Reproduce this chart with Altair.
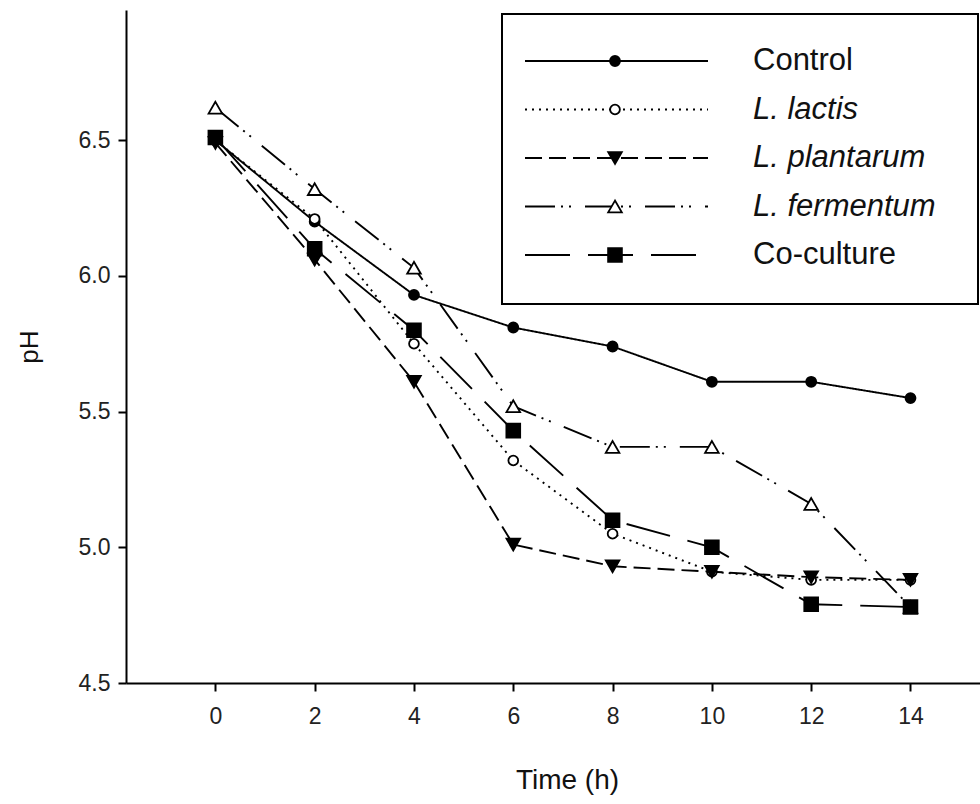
import altair as alt
import pandas as pd

# ---- data ----
times = [0, 2, 4, 6, 8, 10, 12, 14]
series_names = ["Control", "L. lactis", "L. plantarum", "L. fermentum", "Co-culture"]
control = [6.50, 6.20, 5.93, 5.81, 5.74, 5.61, 5.61, 5.55]
lactis = [6.50, 6.21, 5.75, 5.32, 5.05, 4.91, 4.88, 4.88]
plantarum = [6.49, 6.06, 5.61, 5.01, 4.93, 4.91, 4.89, 4.88]
fermentum = [6.62, 6.32, 6.03, 5.52, 5.37, 5.37, 5.16, 4.78]
coculture = [6.51, 6.10, 5.80, 5.43, 5.10, 5.00, 4.79, 4.78]
x_ticks = [0, 2, 4, 6, 8, 10, 12, 14]
y_ticks = [4.5, 5.0, 5.5, 6.0, 6.5]
italic_names = ["L. lactis", "L. plantarum", "L. fermentum"]

# ---- styles ----
dashes = [[1, 0], [2, 5], [17, 7], [30, 6, 2, 6, 2, 14], [45, 18]]
shapes = ["circle", "circle", "triangle-down", "triangle-up", "square"]
fills = ["black", "white", "black", "white", "black"]
sizes = [100, 95, 185, 185, 190]

rows = []
for name, vals in zip(series_names, [control, lactis, plantarum, fermentum, coculture]):
    for t, v in zip(times, vals):
        rows.append({"series": name, "time": t, "pH": v})
df = pd.DataFrame(rows)
leg = pd.DataFrame({"series": series_names,
                    "italic": [n in italic_names for n in series_names]})

FONT = "Liberation Sans"

dash_scale = alt.Scale(domain=series_names, range=dashes)

x_enc = alt.X("time:Q",
              scale=alt.Scale(domain=[-1.8, 15.4], zero=False, nice=False),
              axis=alt.Axis(values=x_ticks, title="Time (h)", grid=False,
                            titlePadding=38, titleFontSize=28, titleFont=FONT,
                            titleFontWeight="normal", labelPadding=14,
                            titleX=441))
y_enc = alt.Y("pH:Q",
              scale=alt.Scale(domain=[4.5, 6.98], zero=False, nice=False),
              axis=alt.Axis(values=y_ticks, format=".1f", title="pH", grid=False,
                            titlePadding=36, titleFontSize=26, titleFont=FONT,
                            titleFontWeight="normal", labelPadding=8))

lines = alt.Chart(df).mark_line(color="black", strokeWidth=1.9).encode(
    x=x_enc, y=y_enc,
    strokeDash=alt.StrokeDash("series:N", scale=dash_scale, legend=None),
    detail="series:N",
)

point_layers = []
for name, shp, fl, sz in zip(series_names, shapes, fills, sizes):
    point_layers.append(
        alt.Chart(df).transform_filter(alt.datum.series == name).mark_point(
            shape=shp, fill=fl, filled=True, size=sz, stroke="black",
            strokeWidth=1.8, opacity=1, fillOpacity=1).encode(x="time:Q", y="pH:Q")
    )

main = alt.layer(lines, *point_layers)

# ---- legend (manual, boxed) ----
leg_y = alt.Y("series:N", scale=alt.Scale(type="point", domain=series_names,
                                          range=[51, 245], padding=0), axis=None)
box = alt.Chart(leg).mark_rect(fill="white", stroke="black", strokeWidth=2).encode(
    x=alt.value(376), x2=alt.value(852), y=alt.value(4), y2=alt.value(294))
leg_lines = alt.Chart(leg).mark_rule(color="black", strokeWidth=1.9).encode(
    x=alt.value(399), x2=alt.value(582), y=leg_y,
    strokeDash=alt.StrokeDash("series:N", scale=dash_scale, legend=None))
leg_pts = []
for name, shp, fl, sz in zip(series_names, shapes, fills, sizes):
    leg_pts.append(
        alt.Chart(leg).transform_filter(alt.datum.series == name).mark_point(
            shape=shp, fill=fl, filled=True, size=sz, stroke="black",
            strokeWidth=1.8, opacity=1, fillOpacity=1).encode(x=alt.value(489), y=leg_y)
    )
leg_txt_reg = alt.Chart(leg).transform_filter("!datum.italic").mark_text(
    align="left", baseline="middle", font=FONT, fontSize=31, color="#111").encode(
    x=alt.value(627), y=leg_y, text="series:N")
leg_txt_it = alt.Chart(leg).transform_filter("datum.italic").mark_text(
    align="left", baseline="middle", font=FONT, fontSize=31, fontStyle="italic", color="#111").encode(
    x=alt.value(627), y=leg_y, text="series:N")

legend = alt.layer(box, leg_lines, *leg_pts, leg_txt_reg, leg_txt_it)

chart = alt.layer(main, legend).resolve_scale(
    y="independent", strokeDash="shared"
).properties(
    width=854, height=673,
    autosize=alt.AutoSizeParams(type="none"),
    padding={"left": 126, "top": 10, "right": 0, "bottom": 121},
    background="white",
).configure_view(stroke=None).configure_axis(
    domainColor="black", domainWidth=2, tickColor="black", tickWidth=2, tickSize=8,
    labelFont=FONT, labelFontSize=23, labelColor="#222", titleColor="#111",
)

chart.save("out.html", embed_options={"renderer": "svg", "actions": False})
